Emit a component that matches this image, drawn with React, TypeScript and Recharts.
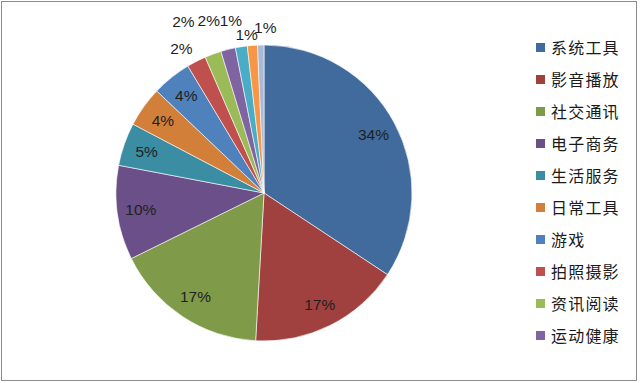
import React from 'react';
import { PieChart, Pie, Cell, Legend } from 'recharts';

const CATEGORIES = ['系统工具', '影音播放', '社交通讯', '电子商务', '生活服务', '日常工具', '游戏', '拍照摄影', '资讯阅读', '运动健康', '教育学习', '旅游出行', '其他'];
const VALUES = [34.3, 16.6, 16.8, 10.3, 4.7, 4.4, 4.3, 2.1, 1.8, 1.6, 1.3, 1.1, 0.7];
const COLORS = ['#426B9D', '#A0413F', '#7F9A48', '#6A4F88', '#3B8DA3', '#D27F3A', '#4F81BD', '#C0504D', '#9BBB59', '#8064A2', '#4BACC6', '#F79646', '#AAB9D7'];
const LEGEND_COUNT = 10;

const data = CATEGORIES.map((name, i) => ({ name, value: VALUES[i] }));

const RADIAN = Math.PI / 180;
const OUTSIDE_NUDGE: Record<number, [number, number]> = {
  7: [-5, 7],
  8: [-22, -12],
  9: [-14, -8],
  10: [-7, -5],
  11: [-4, 11],
  12: [5, 4],
};

const renderLabel = (props: any) => {
  const { cx, cy, midAngle, outerRadius, percent, index } = props;
  const inside = index < 7;
  const r = inside ? outerRadius * 0.84 : outerRadius + 22;
  let x = cx + r * Math.cos(-midAngle * RADIAN);
  let y = cy + r * Math.sin(-midAngle * RADIAN);
  if (!inside && OUTSIDE_NUDGE[index]) {
    x += OUTSIDE_NUDGE[index][0];
    y += OUTSIDE_NUDGE[index][1];
  }
  return (
    <text
      x={x}
      y={y}
      textAnchor="middle"
      dominantBaseline="central"
      fill="#1f1f1f"
      fontSize={15.5}
      fontFamily="'Liberation Sans', Arial, sans-serif"
    >
      {`${Math.round(percent * 100)}%`}
    </text>
  );
};

const renderLegend = (props: any) => {
  const payload = [...(props.payload || [])]
    .sort((a: any, b: any) => CATEGORIES.indexOf(a.value) - CATEGORIES.indexOf(b.value))
    .slice(0, LEGEND_COUNT);
  return (
    <div style={{ display: 'flex', flexDirection: 'column' }}>
      {payload.map((entry: any, i: number) => (
        <div key={i} style={{ display: 'flex', alignItems: 'center', height: 32 }}>
          <span style={{ display: 'inline-block', width: 9, height: 9, background: entry.color, marginRight: 6 }} />
          <span
            style={{
              fontFamily: "'Noto Sans CJK SC', sans-serif",
              fontSize: 16,
              letterSpacing: 1.2,
              color: '#1a1a1a',
              lineHeight: '32px',
            }}
          >
            {entry.value}
          </span>
        </div>
      ))}
    </div>
  );
};

export default function App() {
  return (
    <div style={{ position: 'absolute', left: 0, top: 0, width: 640, height: 383, background: '#fff' }}>
      <div
        style={{
          position: 'absolute',
          left: 1,
          top: 1,
          width: 636,
          height: 380,
          border: '1px solid #8c8c8c',
          boxSizing: 'border-box',
        }}
      />
      <PieChart
        width={640}
        height={383}
        margin={{ top: 0, right: 0, bottom: 0, left: 0 }}
        style={{ position: 'absolute', left: 0, top: 0 }}
      >
        <Pie
          data={data}
          dataKey="value"
          nameKey="name"
          cx={264}
          cy={193}
          outerRadius={148}
          startAngle={90}
          endAngle={-270}
          label={renderLabel}
          labelLine={false}
          stroke="#ffffff"
          strokeWidth={0.6}
          isAnimationActive={false}
        >
          {data.map((d, i) => (
            <Cell key={d.name} fill={COLORS[i]} />
          ))}
        </Pie>
        <Legend
          layout="vertical"
          verticalAlign="top"
          align="right"
          content={renderLegend}
          wrapperStyle={{ left: 536, top: 31, width: 100 }}
        />
      </PieChart>
    </div>
  );
}
